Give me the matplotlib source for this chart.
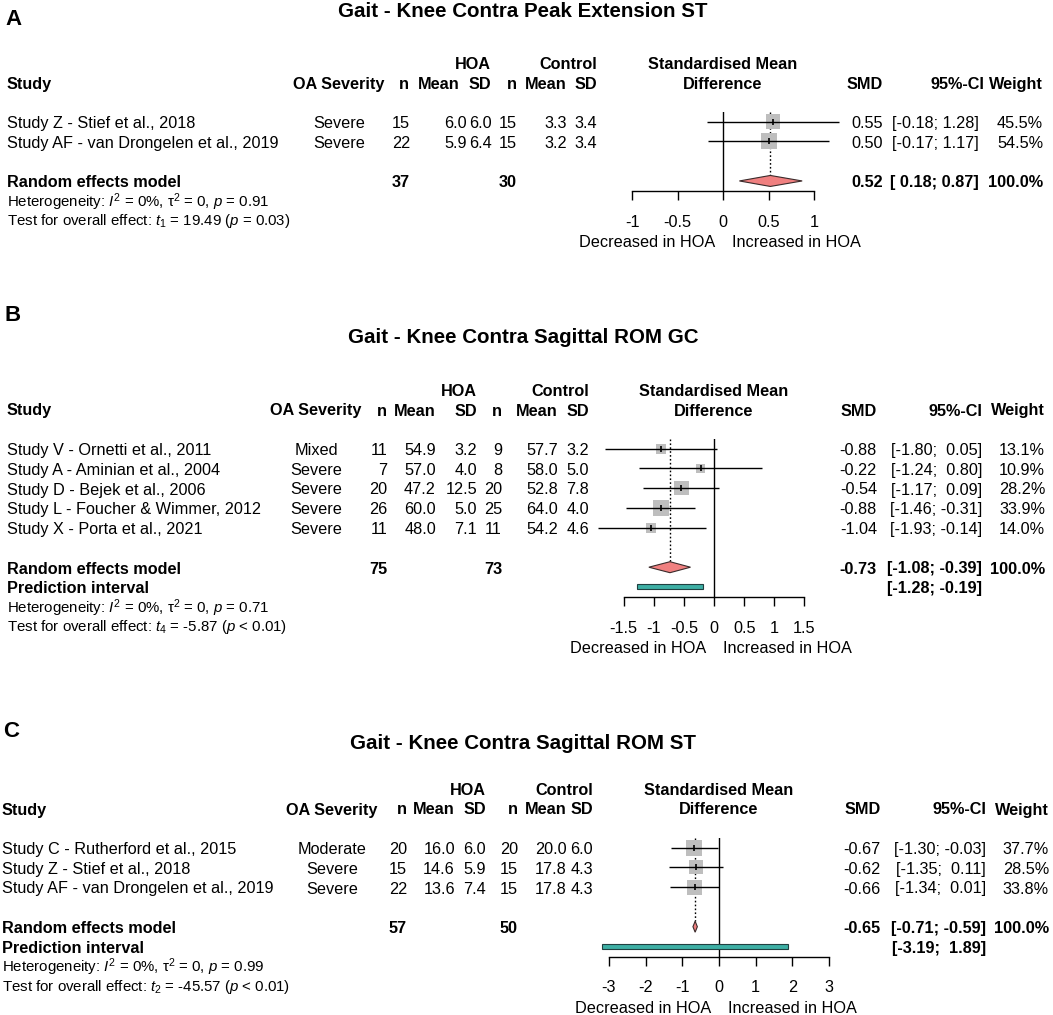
import matplotlib
matplotlib.use("Agg")
import matplotlib.pyplot as plt
import numpy as np
from matplotlib.patches import Polygon, Rectangle

plt.rcParams["font.family"] = ["Liberation Sans", "DejaVu Sans"]
plt.rcParams["mathtext.fontset"] = "custom"
plt.rcParams["mathtext.rm"] = "Liberation Sans"
plt.rcParams["mathtext.it"] = "Liberation Sans:italic"
plt.rcParams["mathtext.bf"] = "Liberation Sans:bold"
plt.rcParams["axes.unicode_minus"] = False


# SIZES
W, H = 1053, 1015
FS = 11.7
FS_SMALL = 10.8
FS_TITLE = 14.8
FS_LETTER = 16
ROW = 19.75
SQUARE_COLOR = "#BEBEBE"
DIAMOND_COLOR = "#F08080"
PREDICT_COLOR = "#3DAFA4"


# PANEL A DATA
a_title = "Gait - Knee Contra Peak Extension ST"
a_studies = [
    "Study Z - Stief et al., 2018",
    "Study AF - van Drongelen et al., 2019",
]
a_severity = ["Severe", "Severe"]
a_hoa_n = [15, 22]
a_hoa_mean = [6.0, 5.9]
a_hoa_sd = [6.0, 6.4]
a_ctl_n = [15, 15]
a_ctl_mean = [3.3, 3.2]
a_ctl_sd = [3.4, 3.4]
a_smd = [0.55, 0.50]
a_lower = [-0.18, -0.17]
a_upper = [1.28, 1.17]
a_weight = [45.5, 54.5]
a_pooled = [0.52, 0.18, 0.87]
a_predict = None
a_totals = [37, 30]
a_het_p = "0.91"
a_test = [1, "19.49", "= 0.03"]
a_ticks = [-1, -0.5, 0, 0.5, 1]

# PANEL B DATA
b_title = "Gait - Knee Contra Sagittal ROM GC"
b_studies = [
    "Study V - Ornetti et al., 2011",
    "Study A - Aminian et al., 2004",
    "Study D - Bejek et al., 2006",
    "Study L - Foucher & Wimmer, 2012",
    "Study X - Porta et al., 2021",
]
b_severity = ["Mixed", "Severe", "Severe", "Severe", "Severe"]
b_hoa_n = [11, 7, 20, 26, 11]
b_hoa_mean = [54.9, 57.0, 47.2, 60.0, 48.0]
b_hoa_sd = [3.2, 4.0, 12.5, 5.0, 7.1]
b_ctl_n = [9, 8, 20, 25, 11]
b_ctl_mean = [57.7, 58.0, 52.8, 64.0, 54.2]
b_ctl_sd = [3.2, 5.0, 7.8, 4.0, 4.6]
b_smd = [-0.88, -0.22, -0.54, -0.88, -1.04]
b_lower = [-1.80, -1.24, -1.17, -1.46, -1.93]
b_upper = [0.05, 0.80, 0.09, -0.31, -0.14]
b_weight = [13.1, 10.9, 28.2, 33.9, 14.0]
b_pooled = [-0.73, -1.08, -0.39]
b_predict = [-1.28, -0.19]
b_totals = [75, 73]
b_het_p = "0.71"
b_test = [4, "-5.87", "< 0.01"]
b_ticks = [-1.5, -1, -0.5, 0, 0.5, 1, 1.5]

# PANEL C DATA
c_title = "Gait - Knee Contra Sagittal ROM ST"
c_studies = [
    "Study C - Rutherford et al., 2015",
    "Study Z - Stief et al., 2018",
    "Study AF - van Drongelen et al., 2019",
]
c_severity = ["Moderate", "Severe", "Severe"]
c_hoa_n = [20, 15, 22]
c_hoa_mean = [16.0, 14.6, 13.6]
c_hoa_sd = [6.0, 5.9, 7.4]
c_ctl_n = [20, 15, 15]
c_ctl_mean = [20.0, 17.8, 17.8]
c_ctl_sd = [6.0, 4.3, 4.3]
c_smd = [-0.67, -0.62, -0.66]
c_lower = [-1.30, -1.35, -1.34]
c_upper = [-0.03, 0.11, 0.01]
c_weight = [37.7, 28.5, 33.8]
c_pooled = [-0.65, -0.71, -0.59]
c_predict = [-3.19, 1.89]
c_totals = [57, 50]
c_het_p = "0.99"
c_test = [2, "-45.57", "< 0.01"]
c_ticks = [-3, -2, -1, 0, 1, 2, 3]


PANEL_A = dict(
    letter="A", title=a_title, studies=a_studies, severity=a_severity,
    hoa_n=a_hoa_n, hoa_mean=a_hoa_mean, hoa_sd=a_hoa_sd,
    ctl_n=a_ctl_n, ctl_mean=a_ctl_mean, ctl_sd=a_ctl_sd,
    smd=a_smd, lower=a_lower, upper=a_upper, weight=a_weight,
    pooled=a_pooled, predict=a_predict, totals=a_totals,
    het_p=a_het_p, test=a_test, ticks=a_ticks,
)
PANEL_B = dict(
    letter="B", title=b_title, studies=b_studies, severity=b_severity,
    hoa_n=b_hoa_n, hoa_mean=b_hoa_mean, hoa_sd=b_hoa_sd,
    ctl_n=b_ctl_n, ctl_mean=b_ctl_mean, ctl_sd=b_ctl_sd,
    smd=b_smd, lower=b_lower, upper=b_upper, weight=b_weight,
    pooled=b_pooled, predict=b_predict, totals=b_totals,
    het_p=b_het_p, test=b_test, ticks=b_ticks,
)
PANEL_C = dict(
    letter="C", title=c_title, studies=c_studies, severity=c_severity,
    hoa_n=c_hoa_n, hoa_mean=c_hoa_mean, hoa_sd=c_hoa_sd,
    ctl_n=c_ctl_n, ctl_mean=c_ctl_mean, ctl_sd=c_ctl_sd,
    smd=c_smd, lower=c_lower, upper=c_upper, weight=c_weight,
    pooled=c_pooled, predict=c_predict, totals=c_totals,
    het_p=c_het_p, test=c_test, ticks=c_ticks,
)


# LAYOUT (pixel positions, (header x, value x))
LAYOUT_A = dict(
    letter=(5, 25), title=(523, 17), base=128,
    study_x=7, sev_x=339,
    hoa_n=(409, 410), hoa_mean=(460, 467), hoa_sd=(491, 492),
    ctl_n=(517, 517), ctl_mean=(567, 567), ctl_sd=(597, 597),
    smd=(883, 883), ci=(984, 979), weight=(1043, 1043),
    zero=723, ppu=91.0,
)
LAYOUT_B = dict(
    letter=(4, 321), title=(523, 343), base=455,
    study_x=7, sev_x=316,
    hoa_n=(387, 387), hoa_mean=(436, 436), hoa_sd=(477, 477),
    ctl_n=(502, 502), ctl_mean=(558, 558), ctl_sd=(589, 589),
    smd=(877, 877), ci=(982, 982), weight=(1045, 1045),
    zero=714, ppu=60.3,
)
LAYOUT_C = dict(
    letter=(3, 737), title=(523, 749), base=854,
    study_x=2, sev_x=332,
    hoa_n=(407, 407), hoa_mean=(455, 455), hoa_sd=(486, 486),
    ctl_n=(518, 518), ctl_mean=(567, 567), ctl_sd=(593, 593),
    smd=(881, 881), ci=(986, 986), weight=(1049, 1049),
    zero=719, ppu=36.7,
)


# HELPERS
def pad_strings(values):
    strings = ["%.2f" % v for v in values]
    width = max(len(s) for s in strings)
    return [s.rjust(width) for s in strings]


def tick_label(value):
    return "%g" % value


def put(canvas, x, y, text, ha="left", bold=False, size=FS):
    canvas.text(
        x, y, text,
        ha=ha, va="baseline",
        fontsize=size,
        fontweight="bold" if bold else "normal",
    )


def draw_panel(fig, canvas, panel, layout):
    n = len(panel["studies"])
    base = layout["base"]
    row_y = lambda k: base + k * ROW

    # letter + title
    put(canvas, layout["letter"][0], layout["letter"][1],
        panel["letter"], bold=True, size=FS_LETTER)
    put(canvas, layout["title"][0], layout["title"][1],
        panel["title"], ha="center", bold=True, size=FS_TITLE)

    # headers
    zero = layout["zero"]
    put(canvas, layout["hoa_sd"][0], row_y(-3), "HOA", ha="right", bold=True)
    put(canvas, layout["ctl_sd"][0], row_y(-3), "Control", ha="right", bold=True)
    put(canvas, zero, row_y(-3), "Standardised Mean", ha="center", bold=True)

    put(canvas, layout["study_x"], row_y(-2), "Study", bold=True)
    put(canvas, layout["sev_x"], row_y(-2), "OA Severity", ha="center", bold=True)
    for key, label in [
        ("hoa_n", "n"), ("hoa_mean", "Mean"), ("hoa_sd", "SD"),
        ("ctl_n", "n"), ("ctl_mean", "Mean"), ("ctl_sd", "SD"),
        ("smd", "SMD"), ("ci", "95%-CI"), ("weight", "Weight"),
    ]:
        put(canvas, layout[key][0], row_y(-2), label, ha="right", bold=True)
    put(canvas, zero, row_y(-2), "Difference", ha="center", bold=True)

    # confidence interval strings, padded like R
    all_lower = list(panel["lower"]) + [panel["pooled"][1]]
    all_upper = list(panel["upper"]) + [panel["pooled"][2]]
    if panel["predict"] is not None:
        all_lower.append(panel["predict"][0])
        all_upper.append(panel["predict"][1])
    lower_text = pad_strings(all_lower)
    upper_text = pad_strings(all_upper)
    ci_text = [f"[{lo}; {hi}]" for lo, hi in zip(lower_text, upper_text)]

    # study rows
    for i in range(n):
        y = row_y(i)
        put(canvas, layout["study_x"], y, panel["studies"][i])
        put(canvas, layout["sev_x"], y, panel["severity"][i], ha="center")
        put(canvas, layout["hoa_n"][1], y, str(panel["hoa_n"][i]), ha="right")
        put(canvas, layout["hoa_mean"][1], y, "%.1f" % panel["hoa_mean"][i], ha="right")
        put(canvas, layout["hoa_sd"][1], y, "%.1f" % panel["hoa_sd"][i], ha="right")
        put(canvas, layout["ctl_n"][1], y, str(panel["ctl_n"][i]), ha="right")
        put(canvas, layout["ctl_mean"][1], y, "%.1f" % panel["ctl_mean"][i], ha="right")
        put(canvas, layout["ctl_sd"][1], y, "%.1f" % panel["ctl_sd"][i], ha="right")
        put(canvas, layout["smd"][1], y, "%.2f" % panel["smd"][i], ha="right")
        put(canvas, layout["ci"][1], y, ci_text[i], ha="right")
        put(canvas, layout["weight"][1], y, "%.1f%%" % panel["weight"][i], ha="right")

    # pooled row
    k_re = n + 1
    y = row_y(k_re)
    put(canvas, layout["study_x"], y, "Random effects model", bold=True)
    put(canvas, layout["hoa_n"][1], y, str(panel["totals"][0]), ha="right", bold=True)
    put(canvas, layout["ctl_n"][1], y, str(panel["totals"][1]), ha="right", bold=True)
    put(canvas, layout["smd"][1], y, "%.2f" % panel["pooled"][0], ha="right", bold=True)
    put(canvas, layout["ci"][1], y, ci_text[n], ha="right", bold=True)
    put(canvas, layout["weight"][1], y, "100.0%", ha="right", bold=True)

    last_k = k_re
    if panel["predict"] is not None:
        last_k = n + 2
        y = row_y(last_k)
        put(canvas, layout["study_x"], y, "Prediction interval", bold=True)
        put(canvas, layout["ci"][1], y, ci_text[n + 1], ha="right", bold=True)

    # heterogeneity lines
    k_het = last_k + 1
    put(canvas, layout["study_x"], row_y(k_het),
        f"Heterogeneity: $I^2$ = 0%, τ$^2$ = 0, $p$ = {panel['het_p']}",
        size=FS_SMALL)
    df, t_value, p_text = panel["test"]
    put(canvas, layout["study_x"], row_y(k_het + 0.93),
        f"Test for overall effect: $t_{{{df}}}$ = {t_value} ($p$ {p_text})",
        size=FS_SMALL)

    # forest axes
    ticks = panel["ticks"]
    ppu = layout["ppu"]
    center0 = base - 6.3
    top_px = center0 - 0.5 * ROW
    axis_px = center0 + last_k * ROW + 10.3
    left_px = zero + ticks[0] * ppu
    right_px = zero + ticks[-1] * ppu

    ax = fig.add_axes([
        left_px / W,
        1 - axis_px / H,
        (right_px - left_px) / W,
        (axis_px - top_px) / H,
    ])
    ax.patch.set_visible(False)
    ax.set_xlim(ticks[0], ticks[-1])
    ax.set_ylim(last_k + 10.3 / ROW, -0.5)
    for side in ["top", "left", "right"]:
        ax.spines[side].set_visible(False)
    ax.spines["bottom"].set_bounds(ticks[0], ticks[-1])
    ax.spines["bottom"].set_linewidth(1.0)
    ax.set_yticks([])
    ax.set_xticks(ticks)
    ax.set_xticklabels([tick_label(t) for t in ticks], fontsize=FS)
    ax.tick_params(axis="x", direction="out", length=6.5, width=1.0, pad=10.5)

    ax.axvline(0, color="black", lw=1.0, zorder=1)

    ys = np.arange(n)
    smd = np.array(panel["smd"])
    weight = np.array(panel["weight"])
    side_pt = 16 * np.sqrt(weight / weight.max()) * 0.72
    pooled_smd, pooled_lo, pooled_hi = panel["pooled"]
    half = 5.5 / ROW

    ax.plot([pooled_smd, pooled_smd], [-0.5, k_re - half],
            color="black", lw=1.0, ls=(0, (1.2, 1.6)), zorder=1)
    ax.scatter(smd, ys, marker="s", s=side_pt ** 2, color=SQUARE_COLOR,
               linewidths=0, zorder=2, clip_on=False)
    ax.hlines(ys, panel["lower"], panel["upper"], color="black", lw=1.0,
              zorder=3, clip_on=False)
    ax.scatter(smd, ys, marker="|", s=14, color="black", linewidths=1.2,
               zorder=4, clip_on=False)

    diamond = Polygon(
        [(pooled_lo, k_re), (pooled_smd, k_re - half),
         (pooled_hi, k_re), (pooled_smd, k_re + half)],
        closed=True, facecolor=DIAMOND_COLOR, edgecolor="#3a2a2a",
        lw=0.8, zorder=3, clip_on=False,
    )
    ax.add_patch(diamond)

    if panel["predict"] is not None:
        lo, hi = panel["predict"]
        bar_h = 5.0 / ROW
        ax.add_patch(Rectangle(
            (lo, last_k - bar_h / 2), hi - lo, bar_h,
            facecolor=PREDICT_COLOR, edgecolor="#204040",
            lw=0.8, zorder=3, clip_on=False,
        ))

    put(canvas, zero - 8, axis_px + 56, "Decreased in HOA", ha="right")
    put(canvas, zero + 9, axis_px + 56, "Increased in HOA", ha="left")


def main():
    fig = plt.figure(figsize=(W / 100, H / 100), dpi=100)
    canvas = fig.add_axes([0, 0, 1, 1])
    canvas.set_xlim(0, W)
    canvas.set_ylim(H, 0)
    canvas.axis("off")

    draw_panel(fig, canvas, PANEL_A, LAYOUT_A)
    draw_panel(fig, canvas, PANEL_B, LAYOUT_B)
    draw_panel(fig, canvas, PANEL_C, LAYOUT_C)

    fig.savefig("out.png", dpi=100)
    plt.close(fig)


if __name__ == "__main__":
    main()
